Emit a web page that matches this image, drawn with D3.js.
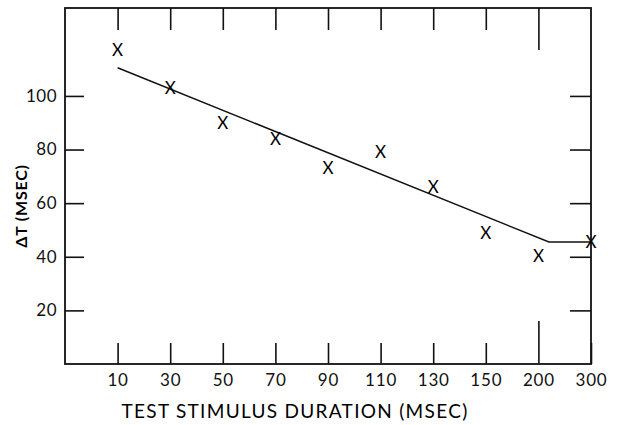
<!DOCTYPE html>
<html>
<head>
<meta charset="utf-8">
<script src="https://cdn.jsdelivr.net/npm/d3@7"></script>
<style>
  body { margin: 0; background: #fff; }
  svg { display: block; }
  .axis path { display: none; }
  .axis line { stroke: #111; stroke-width: 1.6; }
  .axis text { font-family: Lato, sans-serif; fill: #111; }
</style>
</head>
<body>
<div id="graph"></div>
<script>

var svgWidth = 617;
var svgHeight = 425;

// x categories (test stimulus duration, msec), spaced evenly
var durations = ['10', '30', '50', '70', '90', '110', '130', '150', '200', '300'];
// measured delta T (msec)
var deltaT = [117, 103, 90, 84, 73, 79, 66, 49, 40.5, 45.5];
// fitted line: position along the category index, value in msec
var fitIndex = [0, 8.2, 9];
var fitValue = [110.5, 45.5, 45.5];
var yTicks = [20, 40, 60, 80, 100];

var plotLeft = 65, plotRight = 591, plotTop = 8, plotBottom = 364;

var svg = d3.select('#graph').append('svg')
	.attr('width', svgWidth)
	.attr('height', svgHeight);

var x = d3.scaleLinear().domain([-1, 9]).range([plotLeft, plotRight]);
var y = d3.scaleLinear().domain([0, 132.8]).range([plotBottom, plotTop]);

//frame
svg.append('rect')
   .attr('x', plotLeft)
   .attr('y', plotTop)
   .attr('width', plotRight - plotLeft)
   .attr('height', plotBottom - plotTop)
   .attr('fill', 'none')
   .attr('stroke', '#111')
   .attr('stroke-width', 1.8);

var idx = d3.range(durations.length);

//bottom axis, ticks pointing in
var xAxis = svg.append('g')
	.attr('class', 'axis')
	.attr('transform', 'translate(0,' + plotBottom + ')')
	.call(d3.axisBottom(x).tickValues(idx).tickSize(-21).tickPadding(10)
		.tickFormat(function (i) { return durations[i]; }));
xAxis.selectAll('text').style('font-size', '17px').style('letter-spacing', '0.8px');
xAxis.selectAll('.tick').filter(function (i) { return i === 8; })
	.select('line').attr('y2', -43);

//top axis
var xTop = svg.append('g')
	.attr('class', 'axis')
	.attr('transform', 'translate(0,' + plotTop + ')')
	.call(d3.axisTop(x).tickValues(idx.slice(0, 9)).tickSize(-22).tickFormat(''));
xTop.selectAll('.tick').filter(function (i) { return i === 8; })
	.select('line').attr('y2', 42);

//left axis
var yAxis = svg.append('g')
	.attr('class', 'axis')
	.attr('transform', 'translate(' + plotLeft + ',0)')
	.call(d3.axisLeft(y).tickValues(yTicks).tickSize(-19).tickPadding(8));
yAxis.selectAll('text').style('font-size', '17px').style('letter-spacing', '0.5px');

//right axis
svg.append('g')
	.attr('class', 'axis')
	.attr('transform', 'translate(' + plotRight + ',0)')
	.call(d3.axisRight(y).tickValues(yTicks).tickSize(-21).tickFormat(''));

//fitted line
var line = d3.line()
	.x(function (d, i) { return x(fitIndex[i]); })
	.y(function (d) { return y(d); });

svg.append('path')
   .datum(fitValue)
   .attr('d', line)
   .attr('fill', 'none')
   .attr('stroke', '#111')
   .attr('stroke-width', 1.5);

//data markers
svg.selectAll('text.mark')
   .data(deltaT)
   .enter()
   .append('text')
   .attr('class', 'mark')
   .attr('x', function (d, i) { return x(i); })
   .attr('y', function (d) { return y(d); })
   .attr('dy', '0.36em')
   .attr('text-anchor', 'middle')
   .style('font-family', 'Lato, sans-serif')
   .style('font-size', '17px')
   .text('X');

//axis titles
svg.append('text')
   .attr('x', 295)
   .attr('y', 418)
   .attr('text-anchor', 'middle')
   .style('font-family', 'Lato, sans-serif')
   .style('font-size', '19px')
   .style('letter-spacing', '1.3px')
   .text('TEST STIMULUS DURATION (MSEC)');

svg.append('text')
   .attr('transform', 'translate(27,206) rotate(-90)')
   .attr('text-anchor', 'middle')
   .style('font-family', 'Lato, sans-serif')
   .style('font-size', '16px')
   .style('font-weight', 'bold')
   .style('letter-spacing', '0.8px')
   .text('ΔT (MSEC)');

</script>
</body>
</html>
